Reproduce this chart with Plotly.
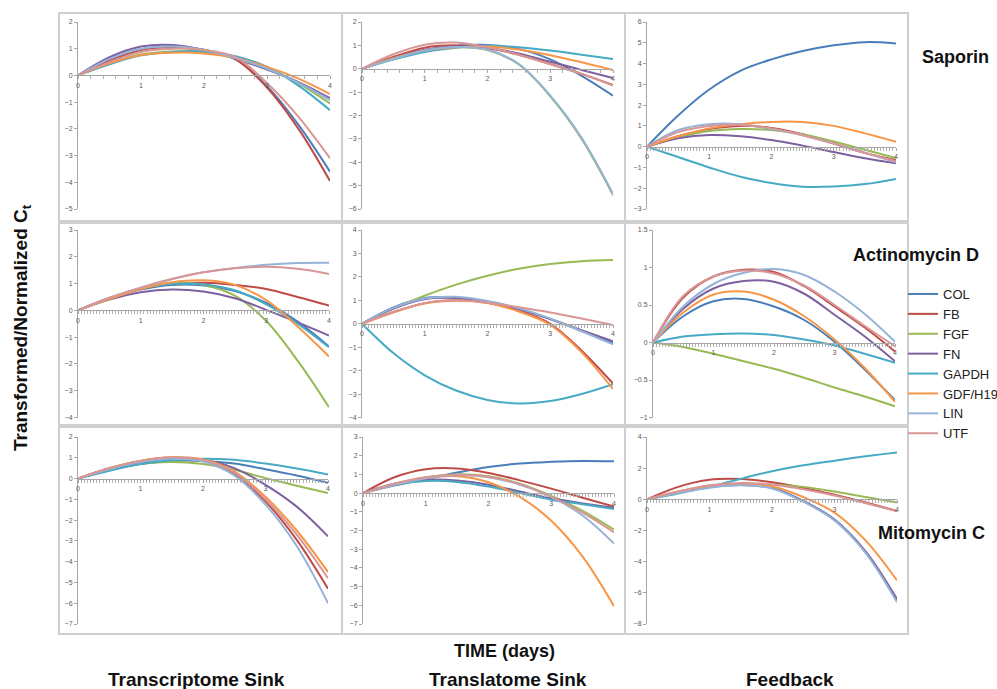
import plotly.graph_objects as go

# ---------------- data ----------------
TIME_DAYS = [0, 0.5, 1, 1.5, 2, 2.5, 3, 3.5, 4]
GENES = ["COL", "FB", "FGF", "FN", "GAPDH", "GDF/H19", "LIN", "UTF"]
COLORS = ["#4A7EBB", "#BE4B48", "#98B954", "#7D60A0", "#46AAC5", "#F79646", "#95B3D7", "#D99694"]

ROW_LABELS = ["Saporin", "Actinomycin D", "Mitomycin C"]
COL_LABELS = ["Transcriptome Sink", "Translatome Sink", "Feedback"]

# each list: series in GENES order, values at TIME_DAYS
SAP_TRANSCRIPTOME = [
    [0, 0.60, 0.98, 1.08, 0.96, 0.62, -0.40, -1.85, -3.60],
    [0, 0.55, 0.95, 1.05, 0.93, 0.60, -0.45, -2.00, -3.95],
    [0, 0.45, 0.78, 0.90, 0.88, 0.68, 0.30, -0.30, -1.05],
    [0, 0.68, 1.08, 1.14, 0.95, 0.62, 0.22, -0.25, -0.85],
    [0, 0.42, 0.75, 0.88, 0.90, 0.72, 0.32, -0.38, -1.30],
    [0, 0.45, 0.76, 0.85, 0.82, 0.65, 0.32, -0.12, -0.70],
    [0, 0.62, 1.00, 1.08, 0.95, 0.65, 0.25, -0.28, -0.92],
    [0, 0.50, 0.88, 1.00, 0.95, 0.68, -0.28, -1.55, -3.10],
]
SAP_TRANSLATOME = [
    [0, 0.45, 0.80, 0.98, 1.02, 0.85, 0.40, -0.30, -1.15],
    [0, 0.50, 0.90, 1.00, 0.88, 0.60, 0.20, -0.22, -0.70],
    [0, 0.40, 0.75, 0.92, 0.80, 0.18, -1.18, -3.00, -5.40],
    [0, 0.45, 0.80, 0.95, 0.90, 0.65, 0.30, -0.05, -0.40],
    [0, 0.40, 0.72, 0.90, 0.98, 0.92, 0.78, 0.60, 0.42],
    [0, 0.45, 0.78, 0.92, 0.95, 0.82, 0.58, 0.28, -0.05],
    [0, 0.42, 0.78, 0.93, 0.82, 0.20, -1.15, -2.95, -5.35],
    [0, 0.62, 1.03, 1.12, 0.92, 0.60, 0.20, -0.22, -0.72],
]
SAP_FEEDBACK = [
    [0, 1.50, 2.75, 3.65, 4.20, 4.60, 4.88, 5.03, 4.97],
    [0, 0.50, 0.85, 1.00, 0.90, 0.60, 0.15, -0.30, -0.65],
    [0, 0.45, 0.75, 0.85, 0.80, 0.60, 0.25, -0.15, -0.55],
    [0, 0.40, 0.56, 0.50, 0.32, 0.05, -0.26, -0.56, -0.80],
    [0, -0.50, -1.00, -1.45, -1.75, -1.93, -1.92, -1.80, -1.55],
    [0, 0.50, 0.88, 1.08, 1.19, 1.19, 1.00, 0.64, 0.24],
    [0, 0.80, 1.08, 1.08, 0.85, 0.55, 0.15, -0.30, -0.75],
    [0, 0.70, 1.00, 1.05, 0.88, 0.55, 0.15, -0.30, -0.70],
]
ACT_TRANSCRIPTOME = [
    [0, 0.45, 0.78, 0.95, 0.93, 0.72, 0.28, -0.42, -1.35],
    [0, 0.45, 0.80, 0.98, 1.03, 0.95, 0.80, 0.50, 0.18],
    [0, 0.45, 0.82, 1.02, 0.95, 0.55, -0.40, -1.88, -3.62],
    [0, 0.40, 0.68, 0.78, 0.70, 0.45, 0.02, -0.45, -0.94],
    [0, 0.45, 0.80, 0.98, 0.97, 0.75, 0.22, -0.50, -1.38],
    [0, 0.42, 0.80, 1.05, 1.12, 0.95, 0.38, -0.60, -1.72],
    [0, 0.47, 0.85, 1.17, 1.42, 1.58, 1.70, 1.77, 1.78],
    [0, 0.47, 0.85, 1.17, 1.42, 1.57, 1.63, 1.55, 1.36],
]
ACT_TRANSLATOME = [
    [0, 0.70, 1.10, 1.12, 0.95, 0.65, 0.20, -0.30, -0.82],
    [0, 0.50, 0.88, 1.00, 0.90, 0.55, 0.00, -1.15, -2.55],
    [0, 0.65, 1.20, 1.67, 2.05, 2.35, 2.55, 2.67, 2.72],
    [0, 0.65, 1.05, 1.10, 0.93, 0.62, 0.20, -0.28, -0.75],
    [0, -1.25, -2.20, -2.85, -3.25, -3.40, -3.30, -3.00, -2.58],
    [0, 0.48, 0.86, 0.98, 0.88, 0.52, -0.05, -1.22, -2.78],
    [0, 0.68, 1.08, 1.15, 0.97, 0.66, 0.22, -0.32, -0.88],
    [0, 0.50, 0.88, 1.00, 0.90, 0.70, 0.48, 0.22, -0.05],
]
ACT_FEEDBACK = [
    [0, 0.35, 0.55, 0.58, 0.48, 0.30, 0.01, -0.36, -0.77],
    [0, 0.60, 0.88, 0.97, 0.94, 0.75, 0.48, 0.20, -0.12],
    [0, -0.06, -0.15, -0.25, -0.35, -0.47, -0.60, -0.72, -0.85],
    [0, 0.45, 0.72, 0.82, 0.81, 0.65, 0.37, 0.08, -0.25],
    [0, 0.08, 0.11, 0.12, 0.10, 0.04, -0.04, -0.15, -0.27],
    [0, 0.40, 0.64, 0.68, 0.57, 0.35, 0.04, -0.34, -0.79],
    [0, 0.48, 0.78, 0.93, 0.98, 0.90, 0.68, 0.38, 0.01],
    [0, 0.62, 0.88, 0.96, 0.92, 0.76, 0.50, 0.22, -0.05],
]
MIT_TRANSCRIPTOME = [
    [0, 0.40, 0.70, 0.85, 0.85, 0.72, 0.45, 0.15, -0.20],
    [0, 0.50, 0.85, 1.00, 0.88, 0.25, -1.10, -2.95, -5.30],
    [0, 0.45, 0.72, 0.80, 0.70, 0.42, 0.02, -0.35, -0.70],
    [0, 0.48, 0.80, 0.95, 0.90, 0.50, -0.30, -1.35, -2.78],
    [0, 0.38, 0.70, 0.88, 0.95, 0.90, 0.72, 0.48, 0.20],
    [0, 0.50, 0.85, 1.02, 0.92, 0.35, -0.88, -2.50, -4.50],
    [0, 0.45, 0.80, 0.95, 0.82, 0.15, -1.25, -3.25, -6.00],
    [0, 0.50, 0.85, 1.02, 0.90, 0.30, -1.00, -2.70, -4.80],
]
MIT_TRANSLATOME = [
    [0, 0.40, 0.75, 1.10, 1.40, 1.58, 1.67, 1.72, 1.70],
    [0, 0.85, 1.28, 1.32, 1.08, 0.68, 0.24, -0.25, -0.72],
    [0, 0.50, 0.85, 1.00, 0.90, 0.50, -0.15, -0.95, -1.95],
    [0, 0.50, 0.72, 0.68, 0.45, 0.08, -0.28, -0.55, -0.78],
    [0, 0.45, 0.65, 0.60, 0.35, 0.00, -0.35, -0.60, -0.85],
    [0, 0.45, 0.80, 0.90, 0.58, -0.20, -1.48, -3.40, -6.05],
    [0, 0.45, 0.80, 0.95, 0.85, 0.45, -0.20, -1.20, -2.70],
    [0, 0.50, 0.85, 0.98, 0.88, 0.48, -0.20, -1.05, -2.10],
]
MIT_FEEDBACK = [
    [0, 0.45, 0.80, 0.95, 0.75, -0.10, -1.30, -3.40, -6.50],
    [0, 0.80, 1.25, 1.30, 1.10, 0.75, 0.30, -0.20, -0.75],
    [0, 0.45, 0.80, 0.95, 0.95, 0.80, 0.50, 0.15, -0.20],
    [0, 0.42, 0.78, 0.92, 0.72, -0.12, -1.32, -3.35, -6.40],
    [0, 0.38, 0.80, 1.32, 1.80, 2.18, 2.48, 2.76, 3.00],
    [0, 0.50, 0.85, 1.00, 0.82, 0.15, -0.85, -2.65, -5.20],
    [0, 0.40, 0.75, 0.90, 0.70, -0.15, -1.35, -3.45, -6.60],
    [0, 0.50, 0.90, 1.05, 0.95, 0.65, 0.25, -0.25, -0.75],
]

PANELS = [
    [SAP_TRANSCRIPTOME, SAP_TRANSLATOME, SAP_FEEDBACK],
    [ACT_TRANSCRIPTOME, ACT_TRANSLATOME, ACT_FEEDBACK],
    [MIT_TRANSCRIPTOME, MIT_TRANSLATOME, MIT_FEEDBACK],
]
Y_RANGES = [
    [[-5, 2], [-6, 2], [-3, 6]],
    [[-4, 3], [-4, 4], [-1, 1.5]],
    [[-7, 2], [-7, 3], [-8, 4]],
]
Y_DTICKS = [[1, 1, 1], [1, 1, 0.5], [1, 1, 2]]
X_TICKS = [0, 1, 2, 3, 4]

# ---------------- layout geometry (pixels) ----------------
W, H = 997, 689
ROW_PX = [(22, 209), (230, 417.5), (437, 624)]
COL_PX = [[(78, 330), (362, 613), (647, 896)],
          [(78, 329), (362, 613), (653, 895)],
          [(78, 328), (363, 614), (647, 897)]]
MINOR = [[0.2, 0.2, 0.05], [0.05, 0.05, 0.05], [0.05, 0.05, 0.05]]
FRAME_X = [(59, 342), (342, 625), (625, 908)]
FRAME_Y = [(13, 221), (223, 425), (427, 634)]


def px(x):
    return x / W


def py(y):
    return 1 - y / H


fig = go.Figure()
layout = {}
axis_font = dict(family="Liberation Sans, Arial", size=7, color="#595959")

k = 0
for r in range(3):
    for c in range(3):
        k += 1
        xa = "xaxis" if k == 1 else f"xaxis{k}"
        ya = "yaxis" if k == 1 else f"yaxis{k}"
        xref = "x" if k == 1 else f"x{k}"
        yref = "y" if k == 1 else f"y{k}"
        y0p, y1p = ROW_PX[r]
        x0p, x1p = COL_PX[r][c]
        ydom = [py(y1p), py(y0p)]
        ymin, ymax = Y_RANGES[r][c]
        zero_pos = ydom[0] + (0 - ymin) / (ymax - ymin) * (ydom[1] - ydom[0])
        layout[xa] = dict(
            domain=[px(x0p), px(x1p)], range=[0, 4], anchor="free", position=zero_pos,
            showline=True, linecolor="#A6A6A6", linewidth=1, showgrid=False, zeroline=False,
            tickmode="array", tickvals=X_TICKS, ticktext=[str(t) for t in X_TICKS],
            ticks="outside", ticklen=3, tickcolor="#A6A6A6", tickfont=axis_font,
            minor=dict(dtick=MINOR[r][c], ticks="outside", ticklen=3, tickcolor="#B0B0B0", showgrid=False),
            fixedrange=True, automargin=False,
        )
        layout[ya] = dict(
            domain=ydom, range=[ymin, ymax], anchor=xref, dtick=Y_DTICKS[r][c],
            showline=True, linecolor="#A6A6A6", linewidth=1, showgrid=False, zeroline=False,
            ticks="outside", ticklen=3, tickcolor="#A6A6A6", tickfont=axis_font,
            fixedrange=True, automargin=False,
        )
        data = PANELS[r][c]
        for g, (name, color) in enumerate(zip(GENES, COLORS)):
            fig.add_trace(go.Scatter(
                x=TIME_DAYS, y=data[g], mode="lines", name=name,
                line=dict(color=color, width=2, shape="spline", smoothing=1.0),
                xaxis=xref, yaxis=yref, legendgroup=name, showlegend=(k == 1),
                hoverinfo="skip",
            ))

shapes = []
for r in range(3):
    for c in range(3):
        shapes.append(dict(type="rect", xref="paper", yref="paper",
                           x0=px(FRAME_X[c][0]), x1=px(FRAME_X[c][1]),
                           y0=py(FRAME_Y[r][1]), y1=py(FRAME_Y[r][0]),
                           line=dict(color="#CFCFCF", width=2), layer="below"))

title_font = dict(family="Liberation Sans, Arial", size=19, color="#111111")
annotations = [
    dict(text="<b>Transformed/Normalized C<sub>t</sub></b>", x=px(22), y=py(328), textangle=-90,
         xref="paper", yref="paper", showarrow=False, xanchor="center", yanchor="middle",
         font=dict(family="Liberation Sans, Arial", size=19, color="#111111")),
    dict(text="<b>TIME (days)</b>", x=px(505), y=py(651), xref="paper", yref="paper",
         showarrow=False, xanchor="center", yanchor="middle",
         font=dict(family="Liberation Sans, Arial", size=18, color="#111111")),
]
for label, cx in zip(COL_LABELS, [196, 508, 790]):
    annotations.append(dict(text=f"<b>{label}</b>", x=px(cx), y=py(679), xref="paper", yref="paper",
                            showarrow=False, xanchor="center", yanchor="middle", font=title_font))
for label, cx, cy in zip(ROW_LABELS, [955, 916, 931], [57, 255, 533]):
    annotations.append(dict(text=f"<b>{label}</b>", x=px(cx), y=py(cy), xref="paper", yref="paper",
                            showarrow=False, xanchor="center", yanchor="middle",
                            font=dict(family="Liberation Sans, Arial", size=18, color="#111111")))

fig.update_layout(
    width=W, height=H, margin=dict(l=0, r=0, t=0, b=0, autoexpand=False),
    paper_bgcolor="white", plot_bgcolor="white",
    showlegend=True,
    legend=dict(x=px(903), y=py(279), xanchor="left", yanchor="top",
                font=dict(family="Liberation Sans, Arial", size=13, color="#222222"),
                bgcolor="rgba(0,0,0,0)", itemwidth=30, tracegroupgap=0),
    shapes=shapes, annotations=annotations,
    **layout,
)

fig.write_html(
    "out.html",
    config={"displayModeBar": False},
    post_script="document.body.style.margin='0';document.body.style.padding='0';"
                "document.body.style.overflow='hidden';",
)
